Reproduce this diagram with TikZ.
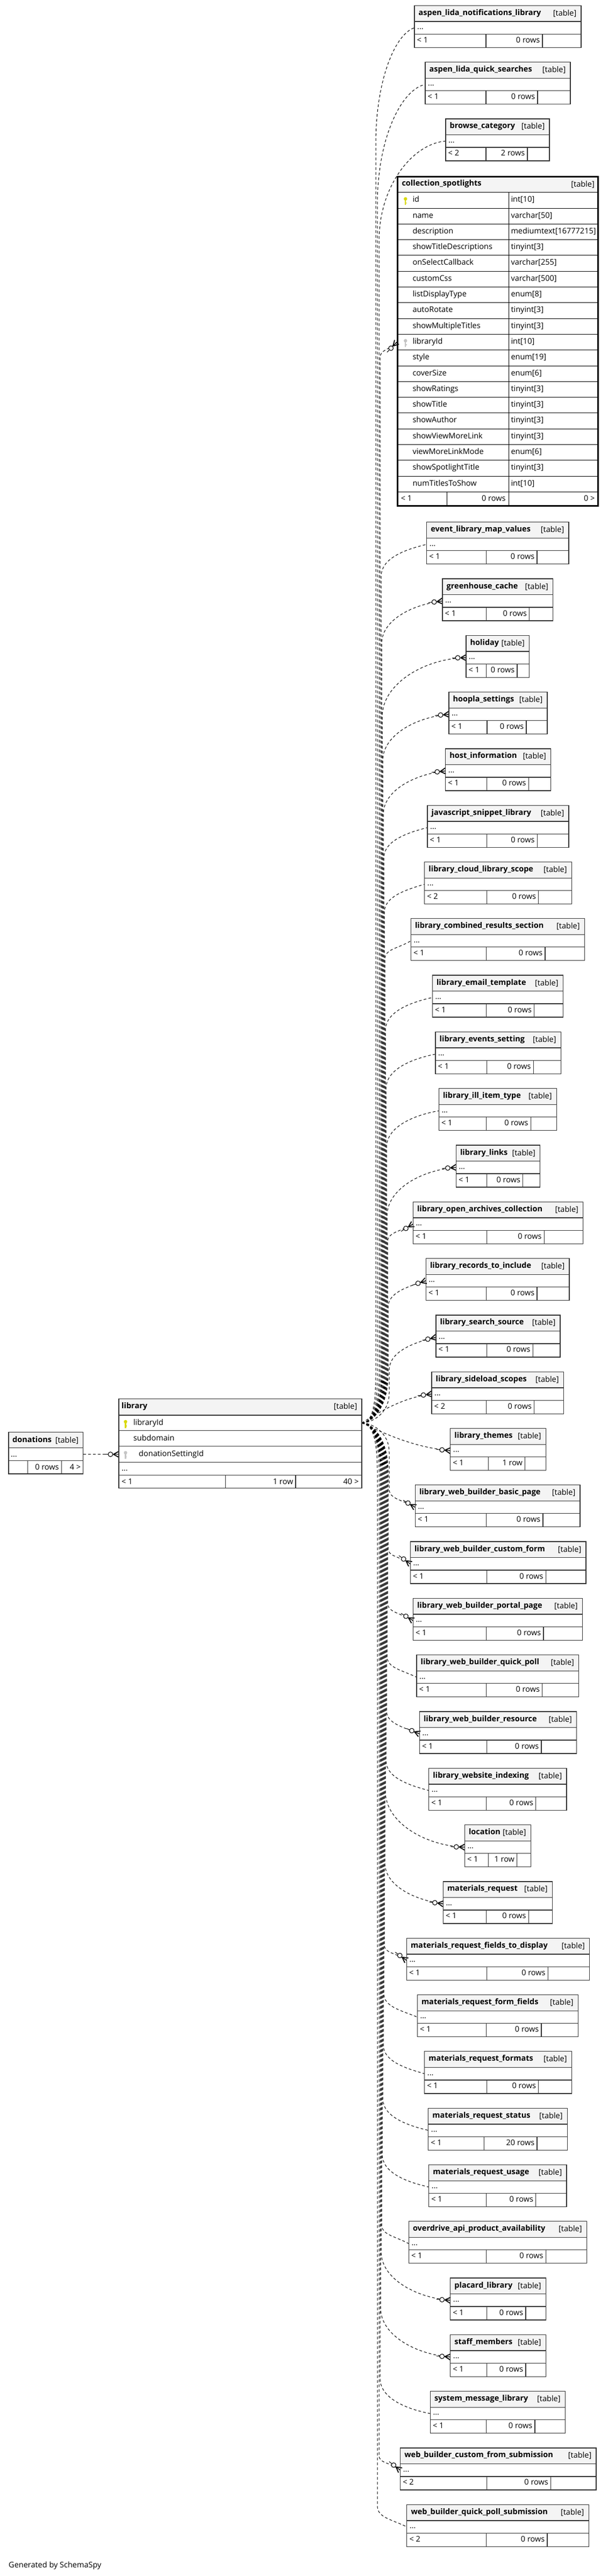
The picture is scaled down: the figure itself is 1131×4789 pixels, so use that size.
\documentclass[tikz,border=0pt]{standalone}
\usepackage{fontspec}
\setmainfont{Open Sans}
\usetikzlibrary{calc,decorations.markings}
\definecolor{hdr}{HTML}{F4F4F4}
\definecolor{tborder}{HTML}{333333}
\definecolor{pkcol}{HTML}{D8D800}
\definecolor{fkcol}{HTML}{C4C4C4}
\newcommand\fs{\fontsize{14.5}{17}\selectfont}
\pgfdeclarelayer{bg}
\pgfdeclarelayer{back}
\pgfsetlayers{bg,back,main}

\newcommand\crowodot{%
  \draw[solid,line width=1.8pt] (-10pt,0pt) -- (0pt,5.5pt) (-10pt,0pt) -- (0pt,-5.5pt);
  \draw[solid,line width=1.3pt] (-10pt,0pt) -- (0pt,0pt);
  \draw[solid,line width=1.1pt,fill=white] (-15.5pt,0pt) circle (4.3pt);
  \draw[solid,line width=1pt] (-26pt,0pt) -- (-19.8pt,0pt);
}

\tikzset{
  fkline/.style={draw=black,line width=1pt,dash pattern=on 5pt off 4pt,
    postaction={decorate},
    decoration={markings,mark=at position 1 with {\crowodot}}},
  tname/.style={anchor=base west,inner sep=0pt,font=\fs\bfseries},
  ttag/.style={anchor=base east,inner sep=0pt,font=\fs},
  cell/.style={anchor=base west,inner sep=0pt,font=\fs},
  cellr/.style={anchor=base east,inner sep=0pt,font=\fs},
  rowbox/.style={rectangle,anchor=north west,inner sep=0pt,outer sep=0pt,draw=none},
  tline/.style={draw=tborder,line width=1.3pt},
  cline/.style={draw=black,line width=1pt},
}

% small table: id, name, top, left, right, split1, split2, lower, rows
\newcommand\stab[9]{%
  \fill[hdr] (#4,#3) rectangle (#5,{#3+29.7});
  \node[tname] (#1-n) at ({#4+7.5},{#3+18}) {#2};
  \node[ttag] (#1-t) at ({#5-8.5},{#3+19}) {[table]};
  \node[rowbox,minimum width={(#5-#4)*1pt},minimum height=23.3pt] (#1) at (#4,{#3+29.7}) {};
  \node[cell] (#1-d) at ({#4+5},{#3+44.3}) {...};
  \node[cell] (#1-l) at ({#4+4.5},{#3+69}) {#8};
  \node[cellr] (#1-r) at ({#7-4.5},{#3+69}) {#9};
  \draw[tline] (#4,{#3+29.7}) -- (#5,{#3+29.7}) (#4,{#3+53}) -- (#5,{#3+53})
     (#6,{#3+53}) -- (#6,{#3+78}) (#7,{#3+53}) -- (#7,{#3+78});
  \draw[tline] (#4,#3) rectangle (#5,{#3+78});
}

% key icon: x, row top, colour
\newcommand\keyicon[3]{%
  \fill[#3] (#1,{#2+12}) circle (3.2pt);
  \fill[#3] ({#1-1.1},{#2+14}) rectangle ({#1+1.1},{#2+23.5});
  \fill[#3] (#1,{#2+19}) rectangle ({#1+2.6},{#2+20.6});
}

% foreign key connector via a trunk: from, to, trunk x, sign (1 up / -1 down), curve factor
\newcommand\fk[5]{%
  \draw[fkline] let \p1=(#1), \p2=(#2),
    \n1={min(90,0.35*abs((\y2)-(\y1))/1pt)},
    \n2={\x2/1pt-#3},
    \n3={min(#5*\n2,0.6*abs((\y2)-(\y1))/1pt)},
    \n4={max(1,20-0.12*\n2)}
  in (\p1) .. controls ({\x1+18pt},\y1) and ({#3pt},{\y1+(#4)*0.3*\n1*1pt}) .. ({#3pt},{\y1+(#4)*\n1*1pt})
  -- ({#3pt},{\y2-(#4)*\n3*1pt})
  .. controls ({#3pt},{\y2-(#4)*0.45*\n3*1pt}) and ({\x2-0.5*\n2*1pt},{\y2-(#4)*\n4*1pt}) .. (\p2);
}
% direct connector for tables next to the source
\newcommand\fknear[2]{%
  \draw[fkline] let \p1=(#1), \p2=(#2) in
  (\p1) .. controls ({\x1+0.3*(\x2-\x1)},{\y1+0.45*(\y2-\y1)}) and ({\x2-0.4*(\x2-\x1)},{\y2-0.12*(\y2-\y1)}) .. (\p2);
}

\begin{document}
\begin{tikzpicture}[x=1pt,y=-1pt]
\begin{pgfonlayer}{bg}
\fill[white] (0,0) rectangle (1131,4789);
\end{pgfonlayer}
\useasboundingbox (0,0) rectangle (1131,4789);

% ---------- donations ----------
\fill[hdr] (16,2662.7) rectangle (154.5,2691.7);
\node[tname] (don-n) at (23,2681) {donations};
\node[ttag] (don-t) at (146.4,2682) {[table]};
\node[rowbox,minimum width=138.5pt,minimum height=24pt] (don-d) at (16,2691.7) {};
\node[cell] (don-dt) at (20,2708.5) {...};
\node[cellr] (don-r) at (109.8,2732.5) {0 rows};
\node[cellr] (don-x) at (150.4,2732.5) {4 >};
\draw[tline] (16,2691.7) -- (154.5,2691.7) (16,2715.7) -- (154.5,2715.7)
   (51.8,2715.7) -- (51.8,2740) (114.7,2715.7) -- (114.7,2740);
\draw[tline] (16,2662.7) rectangle (154.5,2740);

% ---------- library ----------
\fill[hdr] (221,2600.7) rectangle (673,2631);
\node[tname] (lib-n) at (226,2618.3) {library};
\node[ttag] (lib-t) at (664.5,2619.5) {[table]};
\node[rowbox,minimum width=452pt,minimum height=28.6pt] (lib-pk) at (221,2631) {};
\node[rowbox,minimum width=452pt,minimum height=29.5pt] (lib-fk) at (221,2688.7) {};
\keyicon{233.5}{2631}{pkcol}
\keyicon{233.5}{2688.7}{fkcol}
\node[cell] (lib-c1) at (247.8,2649) {libraryId};
\node[cell] (lib-c2) at (247.8,2678) {subdomain};
\node[cell] (lib-c3) at (258,2707.5) {donationSettingId};
\node[cell] (lib-d) at (226,2734) {...};
\node[cell] (lib-l) at (226,2759) {< 1};
\node[cellr] (lib-r) at (545.5,2759) {1 row};
\node[cellr] (lib-x) at (667.5,2759) {40 >};
\draw[tline] (221,2631) -- (673,2631) (221,2659.6) -- (673,2659.6) (221,2688.7) -- (673,2688.7)
   (221,2718.2) -- (673,2718.2) (221,2742.7) -- (673,2742.7)
   (419.6,2742.7) -- (419.6,2766.2) (550,2742.7) -- (550,2766.2);
\draw[tline] (221,2600.7) rectangle (673,2766.2);

% ---------- collection_spotlights ----------
\fill[hdr] (738,326.5) rectangle (1114,357.7);
\node[tname] (cs-n) at (747.3,345.3) {collection\_spotlights};
\node[ttag] (cs-t) at (1106,347.5) {[table]};
\foreach \nm/\ty [count=\i from 0] in {id/int[10],name/varchar[50],description/mediumtext[16777215],showTitleDescriptions/tinyint[3],onSelectCallback/varchar[255],customCss/varchar[500],listDisplayType/enum[8],autoRotate/tinyint[3],showMultipleTitles/tinyint[3],libraryId/int[10],style/enum[19],coverSize/enum[6],showRatings/tinyint[3],showTitle/tinyint[3],showAuthor/tinyint[3],showViewMoreLink/tinyint[3],viewMoreLinkMode/enum[6],showSpotlightTitle/tinyint[3],numTitlesToShow/int[10]}{
  \pgfmathsetmacro\rt{357.7+29.3*\i}
  \node[cell] (cs-c\i) at (767.3,{\rt+18}) {\nm};
  \node[cell] (cs-y\i) at (950.3,{\rt+18}) {\ty};
  \draw[cline] (738,\rt) -- (1114,\rt);
}
\node[rowbox,minimum width=376pt,minimum height=29.3pt] (cs-lib) at (738,621.4) {};
\keyicon{754.3}{357.7}{pkcol}
\keyicon{754.3}{621.4}{fkcol}
\draw[cline] (946,357.7) -- (946,942) (738,914.4) -- (1114,914.4) (831,914.4) -- (831,942);
\node[cell] (cs-l) at (745.7,931.8) {< 1};
\node[cellr] (cs-r) at (940.7,931.8) {0 rows};
\node[cellr] (cs-x) at (1106.7,931.8) {0 >};
\draw[black,line width=3pt] (739.5,328) rectangle (1112.5,940.5);

% ---------- small tables ----------
\stab{t01}{aspen\_lida\_notifications\_library}{10.3}{771}{1081}{904}{1009}{< 1}{0 rows}
\stab{t02}{aspen\_lida\_quick\_searches}{115.6}{791}{1061}{904}{1000}{< 1}{0 rows}
\stab{t03}{browse\_category}{220.9}{829}{1022}{904}{981}{< 2}{2 rows}
\stab{t05}{event\_library\_map\_values}{970.7}{793.7}{1058}{904.3}{999}{< 1}{0 rows}
\stab{t06}{greenhouse\_cache}{1076.0}{823}{1028.7}{904.3}{984.7}{< 1}{0 rows}
\stab{t07}{holiday}{1181.3}{867}{984.7}{904.7}{962}{< 1}{0 rows}
\stab{t08}{hoopla\_settings}{1286.6}{835}{1018}{906}{979}{< 1}{0 rows}
\stab{t09}{host\_information}{1391.9}{828.7}{1024.7}{905.7}{983.3}{< 1}{0 rows}
\stab{t10}{javascript\_snippet\_library}{1497.2}{795}{1058}{905.7}{999.3}{< 1}{0 rows}
\stab{t11}{library\_cloud\_library\_scope}{1602.5}{789.7}{1063.3}{905.7}{1001.7}{< 2}{0 rows}
\stab{t12}{library\_combined\_results\_section}{1707.8}{764.3}{1087.3}{904.7}{1014}{< 1}{0 rows}
\stab{t13}{library\_email\_template}{1813.1}{804.3}{1047.3}{904.7}{993.7}{< 1}{0 rows}
\stab{t14}{library\_events\_setting}{1918.4}{810}{1043.3}{905.7}{992.3}{< 1}{0 rows}
\stab{t15}{library\_ill\_item\_type}{2023.7}{816.3}{1035.3}{904.3}{987.3}{< 1}{0 rows}
\stab{t16}{library\_links}{2129.0}{848.3}{1004.7}{905.7}{972.7}{< 1}{0 rows}
\stab{t17}{library\_open\_archives\_collection}{2234.3}{768.3}{1084.7}{905.7}{1012.3}{< 1}{0 rows}
\stab{t18}{library\_records\_to\_include}{2339.6}{792.3}{1059}{904.3}{999}{< 1}{0 rows}
\stab{t19}{library\_search\_source}{2444.9}{811}{1042}{905.7}{991.3}{< 1}{0 rows}
\stab{t20}{library\_sideload\_scopes}{2550.2}{803}{1048.3}{904.3}{993.7}{< 2}{0 rows}
\stab{t21}{library\_themes}{2655.5}{837.7}{1015.3}{908.3}{976.7}{< 1}{1 row}
\stab{t22}{library\_web\_builder\_basic\_page}{2760.8}{772.3}{1079}{904.3}{1010}{< 1}{0 rows}
\stab{t23}{library\_web\_builder\_custom\_form}{2866.1}{763.3}{1090}{905.7}{1015.3}{< 1}{0 rows}
\stab{t24}{library\_web\_builder\_portal\_page}{2971.4}{768.3}{1083.3}{904.3}{1011}{< 1}{0 rows}
\stab{t25}{library\_web\_builder\_quick\_poll}{3076.7}{775}{1076.7}{904.3}{1008.7}{< 1}{0 rows}
\stab{t26}{library\_web\_builder\_resource}{3182.0}{780.3}{1072.7}{905.7}{1007}{< 1}{0 rows}
\stab{t27}{library\_website\_indexing}{3287.3}{797.7}{1054}{904.3}{996.7}{< 1}{0 rows}
\stab{t28}{location}{3392.6}{864.3}{987.3}{908.7}{961.7}{< 1}{1 row}
\stab{t29}{materials\_request}{3497.9}{824.3}{1027.3}{904.3}{983.3}{< 1}{0 rows}
\stab{t30}{materials\_request\_fields\_to\_display}{3603.2}{756.3}{1096.7}{905.7}{1019.3}{< 1}{0 rows}
\stab{t31}{materials\_request\_form\_fields}{3708.5}{776.3}{1075.3}{904.3}{1007}{< 1}{0 rows}
\stab{t32}{materials\_request\_formats}{3813.8}{789.7}{1063.3}{905.7}{1001.7}{< 1}{0 rows}
\stab{t33}{materials\_request\_status}{3919.1}{796.7}{1055.3}{900.3}{999}{< 1}{20 rows}
\stab{t34}{materials\_request\_usage}{4024.4}{797.7}{1054}{904.3}{996.7}{< 1}{0 rows}
\stab{t35}{overdrive\_api\_product\_availability}{4129.7}{760.3}{1091.3}{904.3}{1015.3}{< 1}{0 rows}
\stab{t36}{placard\_library}{4235.0}{837.7}{1015.3}{905.7}{978}{< 1}{0 rows}
\stab{t37}{staff\_members}{4340.3}{837.7}{1015.3}{905.7}{978}{< 1}{0 rows}
\stab{t38}{system\_message\_library}{4445.6}{800.3}{1051.3}{904.3}{995}{< 1}{0 rows}
\stab{t39}{web\_builder\_custom\_from\_submission}{4550.9}{744.6}{1109}{905.5}{1024.5}{< 2}{0 rows}
\stab{t40}{web\_builder\_quick\_poll\_submission}{4656.2}{756.8}{1095.2}{904.8}{1018}{< 2}{0 rows}

\node[cell] (gen) at (16,4773) {Generated by SchemaSpy};

% ---------- connectors ----------
\begin{pgfonlayer}{back}
\draw[fkline] (don-d.east) -- (don-d.east -| lib-fk.west);
\fk{lib-pk.east}{t01.west}{699}{1}{3}
\fk{lib-pk.east}{t02.west}{702}{1}{2.5}
\fk{lib-pk.east}{t03.west}{705}{1}{1.5}
\fk{lib-pk.east}{cs-lib.west}{707}{1}{0.95}
\fk{lib-pk.east}{t05.west}{709}{1}{0.7}
\fk{lib-pk.east}{t06.west}{710}{1}{0.7}
\fk{lib-pk.east}{t07.west}{711}{1}{0.7}
\fk{lib-pk.east}{t08.west}{712}{1}{0.7}
\fk{lib-pk.east}{t09.west}{713}{1}{0.7}
\fk{lib-pk.east}{t10.west}{714}{1}{0.7}
\fk{lib-pk.east}{t11.west}{715}{1}{0.7}
\fk{lib-pk.east}{t12.west}{716}{1}{0.7}
\fk{lib-pk.east}{t13.west}{717}{1}{0.7}
\fk{lib-pk.east}{t14.west}{718}{1}{0.7}
\fk{lib-pk.east}{t15.west}{719}{1}{0.7}
\fk{lib-pk.east}{t16.west}{720}{1}{0.7}
\fk{lib-pk.east}{t17.west}{721}{1}{0.7}
\fk{lib-pk.east}{t18.west}{722}{1}{0.7}
\fk{lib-pk.east}{t19.west}{724}{1}{0.7}
\fknear{lib-pk.east}{t20.west}
\fknear{lib-pk.east}{t21.west}
\fk{lib-pk.east}{t22.west}{724}{-1}{0.7}
\fk{lib-pk.east}{t23.west}{722}{-1}{0.7}
\fk{lib-pk.east}{t24.west}{721}{-1}{0.7}
\fk{lib-pk.east}{t25.west}{720}{-1}{0.7}
\fk{lib-pk.east}{t26.west}{719}{-1}{0.7}
\fk{lib-pk.east}{t27.west}{718}{-1}{0.7}
\fk{lib-pk.east}{t28.west}{717}{-1}{0.7}
\fk{lib-pk.east}{t29.west}{716}{-1}{0.7}
\fk{lib-pk.east}{t30.west}{715}{-1}{0.7}
\fk{lib-pk.east}{t31.west}{714}{-1}{0.7}
\fk{lib-pk.east}{t32.west}{713}{-1}{0.7}
\fk{lib-pk.east}{t33.west}{712}{-1}{0.7}
\fk{lib-pk.east}{t34.west}{711}{-1}{0.7}
\fk{lib-pk.east}{t35.west}{710}{-1}{0.7}
\fk{lib-pk.east}{t36.west}{709}{-1}{0.7}
\fk{lib-pk.east}{t37.west}{708}{-1}{0.7}
\fk{lib-pk.east}{t38.west}{707}{-1}{0.7}
\fk{lib-pk.east}{t39.west}{705}{-1}{0.7}
\fk{lib-pk.east}{t40.west}{702}{-1}{0.7}
\end{pgfonlayer}
\end{tikzpicture}
\end{document}
